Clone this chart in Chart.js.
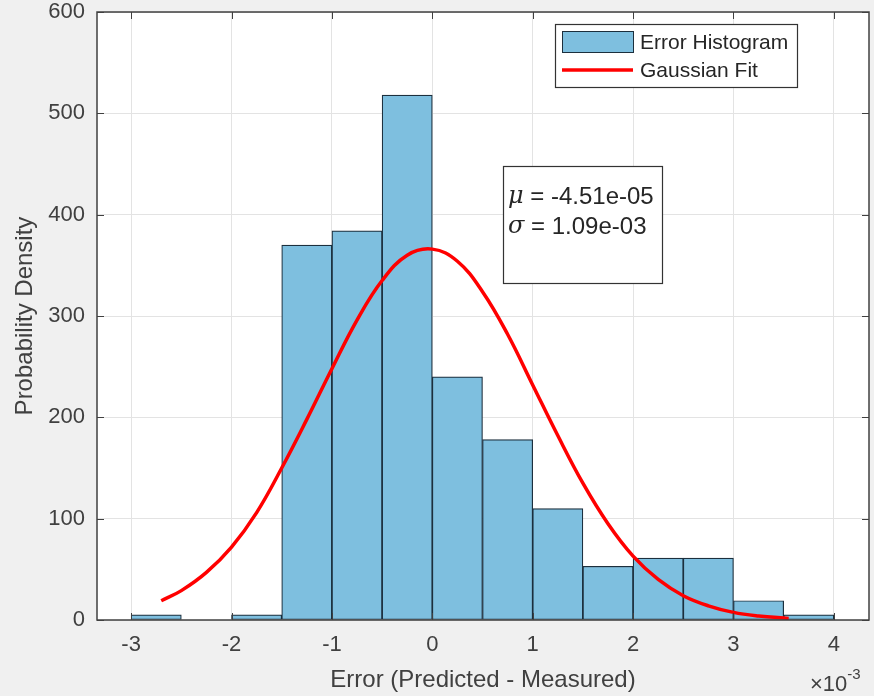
<!DOCTYPE html>
<html lang="en">
<head>
    <meta charset="UTF-8">
    <script src="https://cdn.jsdelivr.net/npm/chart.js@4.4.1/dist/chart.umd.min.js"></script>
    <title>Error Histogram</title>
    <style>
        html, body { margin: 0; padding: 0; background: #f0f0f0; }
        canvas { display: block; }
    </style>
</head>
<body>
    <canvas id="chart" width="874" height="696"></canvas>

    <script>
        // histogram bins, x in units of 1e-3 (bin centres, width 0.5)
        const binCenters = [-2.75, -1.75, -1.25, -0.75, -0.25, 0.25, 0.75, 1.25, 1.75, 2.25, 2.75, 3.25, 3.75];
        const binDensity = [5, 5, 370, 384, 518, 240, 178, 110, 53, 61, 61, 19, 5];

        // gaussian fit curve
        const fitX = [-2.7, -2.5, -2.25, -2.0, -1.75, -1.5, -1.25, -1.0, -0.75, -0.5, -0.25, 0.0, 0.25, 0.5, 0.75, 1.0, 1.25, 1.5, 1.75, 2.0, 2.25, 2.5, 2.75, 3.0, 3.25, 3.55];
        const fitY = [19, 29, 47, 72, 106, 150, 198, 248, 296, 335, 360, 366, 354, 324, 282, 232, 182, 135, 95, 63, 40, 24, 14, 7.5, 4, 1.6];

        const xTicks = [-3, -2, -1, 0, 1, 2, 3, 4];
        const yTicks = [0, 100, 200, 300, 400, 500, 600];

        const fitLines = ['\u03bc = -4.51e-05', '\u03c3 = 1.09e-03'];

        const FONT = '"Liberation Sans", Arial, sans-serif';
        const AXIS = '#404040';

        // white plot area, box, inward ticks, legend, stats box, exponent
        const matlabLook = {
            id: 'matlabLook',
            beforeDraw(chart) {
                const { ctx, chartArea: a } = chart;
                ctx.save();
                ctx.fillStyle = '#ffffff';
                ctx.fillRect(a.left, a.top, a.right - a.left, a.bottom - a.top);
                ctx.restore();
            },
            afterDraw(chart) {
                const { ctx, chartArea: a, scales } = chart;
                ctx.save();
                ctx.strokeStyle = AXIS;
                ctx.lineWidth = 1.5;
                ctx.strokeRect(a.left, a.top, a.right - a.left, a.bottom - a.top);

                // inward ticks
                ctx.lineWidth = 1;
                ctx.beginPath();
                xTicks.forEach(v => {
                    const px = Math.round(scales.x.getPixelForValue(v)) + 0.5;
                    ctx.moveTo(px, a.bottom); ctx.lineTo(px, a.bottom - 7);
                    ctx.moveTo(px, a.top); ctx.lineTo(px, a.top + 7);
                });
                yTicks.forEach(v => {
                    const py = Math.round(scales.y.getPixelForValue(v)) + 0.5;
                    ctx.moveTo(a.left, py); ctx.lineTo(a.left + 7, py);
                    ctx.moveTo(a.right, py); ctx.lineTo(a.right - 7, py);
                });
                ctx.stroke();

                // legend
                const bar = chart.data.datasets[0];
                const fit = chart.data.datasets[1];
                ctx.fillStyle = '#ffffff';
                ctx.fillRect(555, 24, 242, 63);
                ctx.strokeStyle = '#333333';
                ctx.lineWidth = 1.2;
                ctx.strokeRect(555.5, 24.5, 242, 63);
                ctx.fillStyle = bar.backgroundColor;
                ctx.fillRect(562, 31, 71, 21);
                ctx.strokeStyle = bar.borderColor;
                ctx.lineWidth = 1;
                ctx.strokeRect(562.5, 31.5, 71, 21);
                ctx.strokeStyle = fit.borderColor;
                ctx.lineWidth = 3.5;
                ctx.beginPath();
                ctx.moveTo(562, 70); ctx.lineTo(633, 70);
                ctx.stroke();
                ctx.fillStyle = '#262626';
                ctx.font = '21px ' + FONT;
                ctx.textBaseline = 'middle';
                ctx.textAlign = 'left';
                ctx.fillText(bar.label, 640, 43);
                ctx.fillText(fit.label, 640, 71);

                // stats box
                ctx.fillStyle = '#ffffff';
                ctx.fillRect(503, 166, 159, 117);
                ctx.strokeStyle = '#333333';
                ctx.lineWidth = 1.2;
                ctx.strokeRect(503.5, 166.5, 159, 117);
                ctx.fillStyle = '#262626';
                fitLines.forEach((t, i) => {
                    const y = 197 + i * 30;
                    ctx.font = 'italic 24px "DejaVu Serif", serif';
                    ctx.fillText(t.charAt(0), 508, y);
                    const w = ctx.measureText(t.charAt(0)).width;
                    ctx.font = '24px ' + FONT;
                    ctx.fillText(t.slice(1), 508 + w, y);
                });

                // x exponent
                ctx.fillStyle = '#404040';
                ctx.font = '22px ' + FONT;
                ctx.textBaseline = 'alphabetic';
                ctx.fillText('\u00d710', 810, 691);
                const ew = ctx.measureText('\u00d710').width;
                ctx.font = '15px ' + FONT;
                ctx.fillText('-3', 810 + ew, 679);
                ctx.restore();
            }
        };

        const ctx = document.getElementById('chart').getContext('2d');
        const chart = new Chart(ctx, {
            data: {
                datasets: [{
                    type: 'bar',
                    label: 'Error Histogram',
                    data: binCenters.map((c, i) => ({ x: c, y: binDensity[i] })),
                    backgroundColor: '#7ebfdf',
                    borderColor: '#1c2f3d',
                    borderWidth: 1.2,
                    borderSkipped: false,
                    barPercentage: 1,
                    categoryPercentage: 1,
                    order: 2
                }, {
                    type: 'line',
                    label: 'Gaussian Fit',
                    data: fitX.map((x, i) => ({ x: x, y: fitY[i] })),
                    borderColor: '#ff0000',
                    borderWidth: 3.5,
                    pointRadius: 0,
                    tension: 0.4,
                    fill: false,
                    order: 1
                }]
            },
            options: {
                responsive: false,
                animation: false,
                devicePixelRatio: 1,
                layout: { padding: { top: 12, right: 5, left: 0, bottom: 0 } },
                plugins: {
                    legend: { display: false },
                    tooltip: { enabled: false }
                },
                scales: {
                    x: {
                        type: 'linear',
                        offset: false,
                        min: -3.34,
                        max: 4.35,
                        afterBuildTicks: s => { s.ticks = xTicks.map(v => ({ value: v })); },
                        afterFit: s => { s.height = 76; s.paddingLeft = 0; s.paddingRight = 0; },
                        border: { display: false },
                        grid: { color: '#e3e3e3', drawTicks: false, offset: false },
                        ticks: {
                            padding: 12,
                            color: '#404040',
                            font: { family: FONT, size: 22 },
                            callback: v => String(v)
                        },
                        title: {
                            display: true,
                            text: 'Error (Predicted - Measured)',
                            color: '#404040',
                            font: { family: FONT, size: 24 },
                            padding: { top: 0, bottom: 1 }
                        }
                    },
                    y: {
                        min: 0,
                        max: 600,
                        afterBuildTicks: s => { s.ticks = yTicks.map(v => ({ value: v })); },
                        afterFit: s => { s.width = 97; s.paddingTop = 0; s.paddingBottom = 0; },
                        border: { display: false },
                        grid: { color: '#e3e3e3', drawTicks: false },
                        ticks: {
                            padding: 12,
                            color: '#404040',
                            font: { family: FONT, size: 22 }
                        },
                        title: {
                            display: true,
                            text: 'Probability Density',
                            color: '#404040',
                            font: { family: FONT, size: 24 },
                            padding: { top: 11, bottom: 0 }
                        }
                    }
                }
            },
            plugins: [matlabLook]
        });
    </script>
</body>
</html>
